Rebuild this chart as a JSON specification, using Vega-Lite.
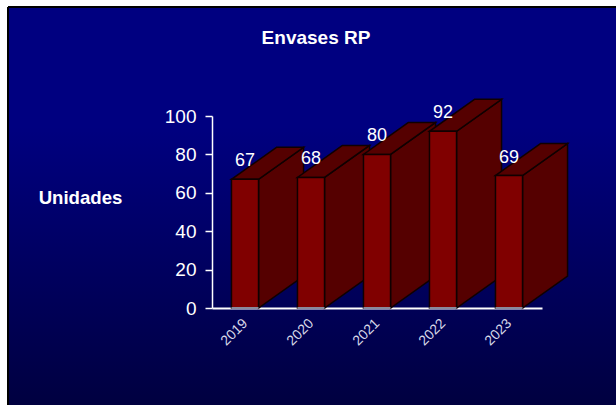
{"$schema":"https://vega.github.io/schema/vega-lite/v6.json","width":608,"height":398,"autosize":{"type":"none"},"padding":{"left":8,"top":7,"right":0,"bottom":0},"background":"white","view":{"stroke":null,"fill":{"gradient":"linear","x1":0,"y1":0,"x2":0,"y2":1,"stops":[{"offset":0,"color":"#000080"},{"offset":0.3,"color":"#000080"},{"offset":1,"color":"#000040"}]}},"title":{"text":"Envases RP","color":"white","font":"Liberation Sans","fontSize":19,"fontWeight":"bold","anchor":"middle","dx":4,"offset":-42},"data":{"values":[{"year":2019,"value":67},{"year":2020,"value":68},{"year":2021,"value":80},{"year":2022,"value":92},{"year":2023,"value":69}]},"transform":[{"calculate":"[0,1]","as":"t"},{"flatten":["t"]},{"calculate":"datum.year-0.205+datum.t*0.682","as":"left"},{"calculate":"datum.year+0.205+datum.t*0.682","as":"right"},{"calculate":"datum.value+datum.t*16.67","as":"topv"},{"calculate":"datum.t*16.67","as":"basev"}],"layer":[{"mark":{"type":"area","color":"#550000","stroke":"#100000","strokeWidth":1.5,"orient":"vertical"},"encoding":{"x":{"field":"right","type":"quantitative","scale":{"domain":[2018.5,2023.5],"range":[204,534]},"axis":{"values":[2019,2020,2021,2022,2023],"format":"d","title":null,"grid":false,"ticks":false,"offset":-97,"domainColor":"white","domainWidth":2,"labelColor":"#d8d8e8","labelFont":"Liberation Sans","labelFontSize":14,"labelAngle":-45,"labelAlign":"right","labelBaseline":"middle","labelPadding":13,"labelOverlap":false}},"y":{"field":"topv","type":"quantitative","scale":{"domain":[0,100],"range":[301,109],"nice":false,"zero":false},"axis":{"values":[0,20,40,60,80,100],"title":"Unidades","titleColor":"white","titleFont":"Liberation Sans","titleFontSize":18.6,"titleFontWeight":"bold","titleAngle":0,"titleAlign":"center","titleBaseline":"middle","titleX":-132,"titleY":190,"grid":false,"offset":-204,"domainColor":"white","domainWidth":1.5,"tickColor":"white","tickSize":7,"tickWidth":1.5,"labelColor":"white","labelFont":"Liberation Sans","labelFontSize":19,"labelPadding":9}},"y2":{"field":"basev"},"detail":{"field":"year"}}},{"mark":{"type":"area","color":"#550000","stroke":"#100000","strokeWidth":1.5,"orient":"horizontal"},"encoding":{"y":{"field":"topv","type":"quantitative"},"x":{"field":"left","type":"quantitative"},"x2":{"field":"right"},"detail":{"field":"year"}}},{"transform":[{"filter":"datum.t==0"}],"mark":{"type":"bar","color":"#800000","stroke":"#100000","strokeWidth":1.5},"encoding":{"x":{"field":"left","type":"quantitative"},"x2":{"field":"right"},"y":{"field":"value","type":"quantitative"},"y2":{"datum":0}}},{"transform":[{"filter":"datum.t==0"}],"mark":{"type":"rule","color":"#8a8a9c","strokeWidth":2},"encoding":{"x":{"field":"left","type":"quantitative"},"x2":{"field":"right"},"y":{"datum":0,"type":"quantitative"}}},{"transform":[{"filter":"datum.t==0"}],"mark":{"type":"text","color":"white","font":"Liberation Sans","fontSize":18,"baseline":"middle","align":"center","dy":-18},"encoding":{"x":{"field":"year","type":"quantitative"},"y":{"field":"value","type":"quantitative"},"text":{"field":"value","type":"quantitative"}}},{"mark":{"type":"rule","color":"black","strokeWidth":1.5},"encoding":{"x":{"datum":2015.409,"type":"quantitative"}}},{"mark":{"type":"rule","color":"black","strokeWidth":1.5},"encoding":{"y":{"datum":156.77,"type":"quantitative"}}}]}
